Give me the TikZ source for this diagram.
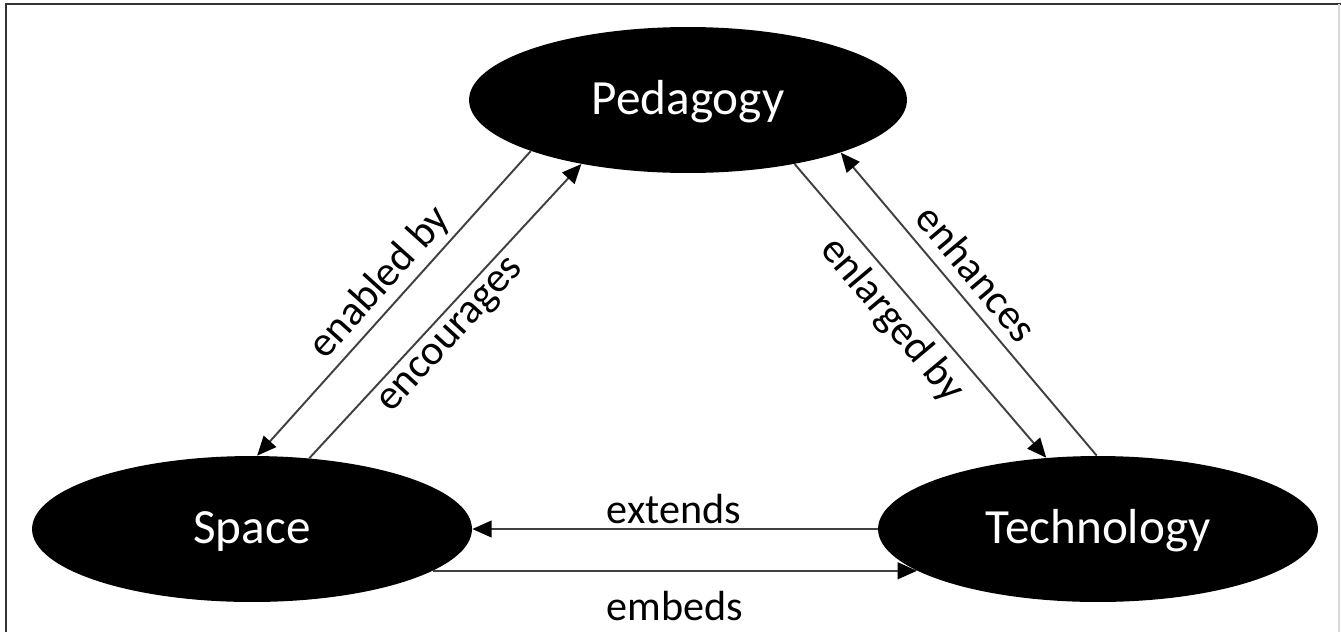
\documentclass[tikz,border=0pt]{standalone}
\usepackage{fontspec}
\setmainfont{Carlito}
\usetikzlibrary{shapes.geometric,arrows.meta}
\begin{document}
\begin{tikzpicture}[
    x=0.02cm, y=-0.02cm,
    concept/.style={ellipse, fill=black, text=white, inner sep=0pt,
                    minimum width=8.8cm, minimum height=2.92cm,
                    text height=22pt, text depth=6pt,
                    font=\fontsize{28}{33}\selectfont},
    link/.style={draw=black!75, line width=1.1pt,
                 -{Triangle[length=11pt,width=9.5pt,color=black]}},
    rel/.style={inner sep=0pt, font=\fontsize{24}{29}\selectfont}]

\useasboundingbox (0,0) rectangle (1341,632);
% frame
\draw[black!80, line width=1.2pt] (6,632) |- (1341,4);
\draw[black!15, line width=1pt] (1339,4) -- (1339,632);

\node[concept, minimum width=8.76cm] (ped) at (688,100) {Pedagogy};
\node[concept] (space) at (252,529) {Space};
\node[concept] (tech) at (1098,529) {Technology};

% pedagogy <-> space
\draw[link] (ped.198) -- (space.86);
\draw[link] (space.51) -- (ped.211.5);
% pedagogy <-> technology
\draw[link] (ped.329.5) -- (tech.126.5);
\draw[link] (tech.91) -- (ped.341.5);
% technology <-> space
\draw[link] (tech.180) -- (space.0);
\draw[link] (space.-13.5) -- (tech.193.5);

\node[rel, rotate=48] (enabled) at (380,283) {enabled by};
\node[rel, rotate=47.5] (encour) at (453,337) {encourages};
\node[rel, rotate=-50] (enlarged) at (892,320) {enlarged by};
\node[rel, rotate=-50] (enhance) at (977,273) {enhances};
\node[rel] (extend) at (674,509) {extends};
\node[rel] (embed) at (675,606) {embeds};

\end{tikzpicture}
\end{document}
